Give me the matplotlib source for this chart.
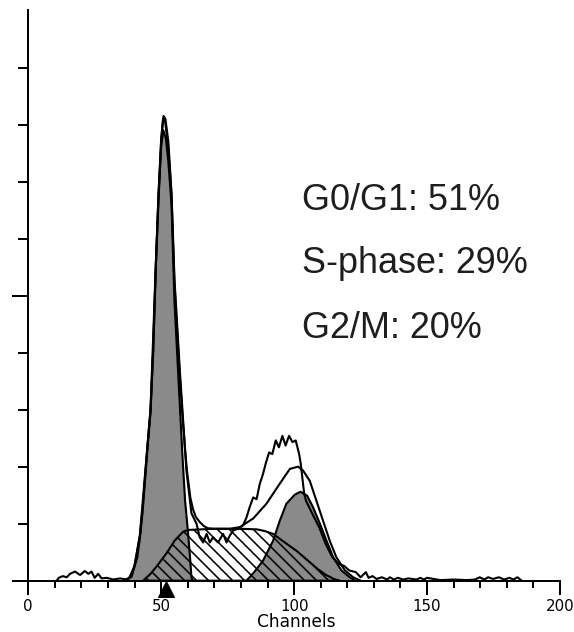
import matplotlib
matplotlib.use("Agg")
import matplotlib.pyplot as plt
from matplotlib.transforms import ScaledTranslation

# flow cytometry DNA histogram (y in tick units)

# G0/G1 peak (gray)
g1_ch = [36, 38, 39, 40, 41, 42, 43, 44, 45, 46, 47, 48, 49, 50, 50.8,
         51.8, 52.7, 53.9, 55, 56, 57, 58, 59, 60, 60.8, 61.4, 62]
g1_counts = [0, 0.05, 0.12, 0.25, 0.4, 0.75, 1.2, 1.8, 2.4, 2.95, 4.0, 5.5, 6.75, 7.6, 7.9,
             7.75, 7.35, 6.6, 4.9, 4.0, 3.1, 2.2, 1.4, 0.9, 0.45, 0.05, 0]

# G2/M peak (gray)
g2_ch = [82.1, 85, 88.3, 92.1, 94.6, 97.1, 100.3, 102.4, 104.9, 107.1, 109.7,
         112.2, 114.7, 117.8, 120.9, 123]
g2_counts = [0, 0.15, 0.35, 0.70, 1.05, 1.35, 1.51, 1.56, 1.49, 1.29, 1.0,
             0.70, 0.41, 0.18, 0.06, 0]

# S-phase (hatched)
s_ch = [43.2, 46, 48.3, 52, 55.2, 58.3, 60.2, 70, 80, 86, 89, 92.1, 97.1,
        101, 105, 109, 112, 115, 117]
s_counts = [0, 0.12, 0.25, 0.48, 0.71, 0.86, 0.89, 0.91, 0.91, 0.9, 0.87, 0.82, 0.65,
            0.52, 0.36, 0.2, 0.1, 0.03, 0]

# fitted envelope
fit_ch = [36, 38, 40, 42, 43, 44, 45, 46, 47, 48, 49, 50, 50.7, 51.5, 52.7, 53.9,
          55, 56, 57, 58, 59, 59.7, 61, 62, 63, 64.5, 66, 67.5, 70, 76, 79.6,
          84.6, 89.6, 94.6, 98.4, 101.5, 103.4, 105.9, 108.4, 110.9, 113.4,
          115.9, 119.1, 122.2, 125]
fit_counts = [0, 0.05, 0.26, 0.78, 1.25, 1.85, 2.45, 3.0, 4.05, 5.55, 6.8, 7.7, 8.1, 8.05,
              7.6, 6.75, 5.2, 4.4, 3.6, 2.9, 2.3, 1.93, 1.45, 1.25, 1.12, 1.03, 0.96,
              0.92, 0.91, 0.91, 0.94, 1.09, 1.35, 1.70, 1.96, 2.0, 1.93, 1.75, 1.40,
              1.05, 0.70, 0.41, 0.18, 0.06, 0]

# raw histogram as (channel, count)
raw_points = [
    (10.7, 0), (11.5, 0.05), (13, 0.08), (14.5, 0.06), (15.7, 0.12), (17.6, 0.16),
    (19.5, 0.10), (21.3, 0.17), (22.6, 0.12), (23.8, 0.16), (25, 0.05), (26.3, 0.12),
    (27.6, 0.04), (29.5, 0.05), (32, 0.02), (34.5, 0.04), (37, 0.02), (38.9, 0.07),
    (40, 0.27), (42, 0.8), (44, 1.9), (46, 3.0), (48, 5.55), (50, 7.75), (50.9, 8.15),
    (51.6, 8.1), (52.7, 7.7), (53.9, 6.8), (55, 5.3), (56, 4.5), (57, 3.7), (58, 3.0),
    (59.5, 1.93), (61.4, 1.18), (63.3, 1.0), (64.5, 0.76), (65.8, 0.67), (67.1, 0.82),
    (68.3, 0.67), (69.5, 0.76), (71.4, 0.67), (73.3, 0.82), (74.6, 0.67), (75.8, 0.79),
    (77.1, 0.88), (78.9, 0.91), (80.8, 0.97), (82.1, 1.11), (83.3, 1.29), (84.6, 1.46),
    (85.9, 1.43), (87.1, 1.70), (88.3, 1.87), (89.3, 2.05), (90.6, 2.25), (91.8, 2.22),
    (93.1, 2.46), (94.3, 2.34), (95.6, 2.54), (96.8, 2.37), (98.1, 2.54), (99.4, 2.43),
    (100.6, 2.46), (101.9, 2.22), (102.5, 2.05), (103.8, 1.52), (104.5, 1.40),
    (106.9, 1.17), (109.4, 0.94), (111.9, 0.64), (114.4, 0.41), (116.9, 0.29),
    (118.8, 0.26), (120.7, 0.18), (123.2, 0.15), (125, 0.06), (127, 0.15), (128, 0.05),
    (129.5, 0.08), (131, 0.03), (133, 0.06), (135, 0.02), (136, 0.06), (137.5, 0.02),
    (139, 0.05), (141, 0.02), (143, 0.04), (146, 0.02), (147.5, 0.05), (148.8, 0.02),
    (150, 0.05), (155, 0.01), (160, 0.02), (165, 0.01), (168, 0.02), (169.8, 0.06),
    (171.5, 0.02), (173, 0.06), (174.8, 0.03), (177, 0.06), (179, 0.02), (181, 0.05),
    (182.5, 0.02), (184, 0.06), (185.6, 0),
]
raw_ch = [p[0] for p in raw_points]
raw_counts = [p[1] for p in raw_points]

g1_mode = 52  # marker under the G1 peak

phase_labels = ["G0/G1: 51%", "S-phase: 29%", "G2/M: 20%"]
label_y = [6.5, 5.4, 4.26]

x_major = [0, 50, 100, 150, 200]
x_minor = [10, 20, 30, 40, 60, 70, 80, 90, 110, 120, 130, 140, 160, 170, 180, 190]
y_major = [5]
y_minor = [1, 2, 3, 4, 6, 7, 8, 9]

plt.rcParams['hatch.linewidth'] = 1.6
plt.rcParams['hatch.color'] = 'black'

fig = plt.figure(figsize=(574 / 72, 632 / 72), dpi=72)
ax = fig.add_axes([0.0232, 0.0812, 0.9524, 0.9022])

gray = '#8a8a8a'
lw = 2.1
ax.fill_between(g1_ch, g1_counts, color=gray, lw=0, zorder=2)
ax.plot(g1_ch, g1_counts, color='black', lw=lw, zorder=3)
ax.fill_between(g2_ch, g2_counts, color=gray, lw=0, zorder=2)
ax.plot(g2_ch, g2_counts, color='black', lw=lw, zorder=3)
ax.fill_between(s_ch, s_counts, facecolor='none', edgecolor='black',
                hatch='\\\\', lw=lw, zorder=3)
ax.plot(fit_ch, fit_counts, color='black', lw=lw, zorder=4)
ax.plot(raw_ch, raw_counts, color='black', lw=lw, zorder=5)

# triangle marker just below the axis
off = ScaledTranslation(0, -8 / 72, fig.dpi_scale_trans)
ax.plot([g1_mode], [0], marker='^', ms=16, color='black', ls='none',
        clip_on=False, transform=ax.transData + off, zorder=6)

for txt, yy in zip(phase_labels, label_y):
    ax.text(103, yy, txt, fontsize=36, family='Liberation Sans',
            color='#1e1e1e', va='baseline', ha='left')

ax.set_xlim(-5.6, 200)
ax.set_ylim(0, 10)
ax.spines['top'].set_visible(False)
ax.spines['right'].set_visible(False)
ax.spines['left'].set_position(('data', 0))
ax.spines['left'].set_linewidth(2)
ax.spines['bottom'].set_linewidth(2)

ax.set_xticks(x_major)
ax.set_xticks(x_minor, minor=True)
ax.set_yticks(y_major)
ax.set_yticks(y_minor, minor=True)
ax.set_yticklabels([])
ax.tick_params(axis='x', which='major', length=14, width=2, direction='out',
               labelsize=15, pad=4)
ax.tick_params(axis='x', which='minor', length=7, width=2, direction='out')
ax.tick_params(axis='y', which='major', length=16, width=2, direction='out')
ax.tick_params(axis='y', which='minor', length=10, width=2, direction='out')

ax.set_xlabel("Channels", fontsize=17)
ax.xaxis.set_label_coords(0.517, -0.056)

fig.savefig("out.png", dpi=72)
